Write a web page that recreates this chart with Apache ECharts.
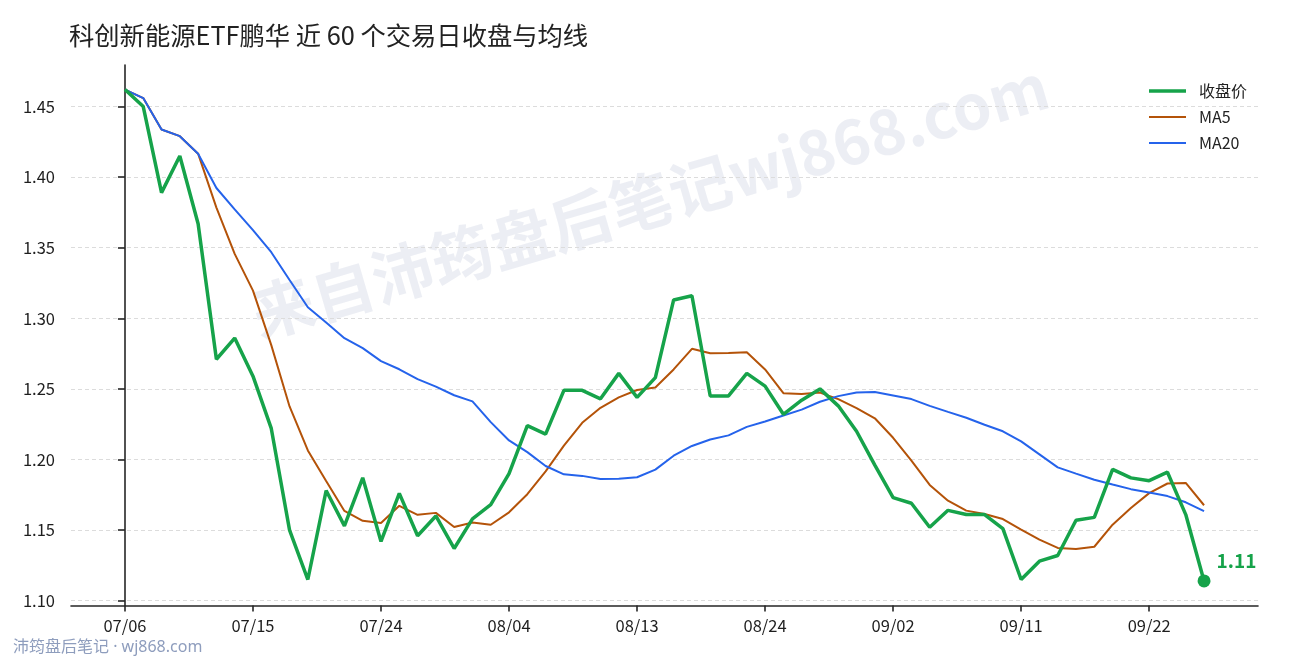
<!DOCTYPE html>
<html>
<head>
<meta charset="utf-8">
<script src="https://cdn.jsdelivr.net/npm/echarts@6/dist/echarts.min.js"></script>
<style>
html,body{margin:0;padding:0;background:#fff;}
#chart{width:1290px;height:660px;}
</style>
</head>
<body>
<div id="chart"></div>
<script>
const dates = [
  '07/06','07/07','07/08','07/09','07/10','07/13','07/14','07/15','07/16','07/17',
  '07/20','07/21','07/22','07/23','07/24','07/27','07/28','07/29','07/30','07/31',
  '08/03','08/04','08/05','08/06','08/07','08/10','08/11','08/12','08/13','08/14',
  '08/17','08/18','08/19','08/20','08/21','08/24','08/25','08/26','08/27','08/28',
  '08/31','09/01','09/02','09/03','09/04','09/07','09/08','09/09','09/10','09/11',
  '09/14','09/15','09/16','09/17','09/18','09/21','09/22','09/23','09/24','09/25'
];
const closePrice = [
  1.462,1.450,1.389,1.415,1.367,1.271,1.286,1.259,1.222,1.150,
  1.115,1.178,1.153,1.187,1.142,1.176,1.146,1.160,1.137,1.158,
  1.168,1.190,1.224,1.218,1.249,1.249,1.243,1.261,1.244,1.258,
  1.313,1.316,1.245,1.245,1.261,1.252,1.232,1.242,1.250,1.238,
  1.220,1.196,1.173,1.169,1.152,1.164,1.161,1.161,1.151,1.115,
  1.128,1.132,1.157,1.159,1.193,1.187,1.185,1.191,1.161,1.114
];
const ma5 = [
  1.4620,1.4560,1.4337,1.4290,1.4166,1.3784,1.3456,1.3196,1.2810,1.2376,
  1.2064,1.1848,1.1636,1.1566,1.1550,1.1672,1.1608,1.1622,1.1522,1.1554,
  1.1538,1.1626,1.1754,1.1916,1.2098,1.2260,1.2366,1.2440,1.2492,1.2510,
  1.2638,1.2784,1.2752,1.2754,1.2760,1.2638,1.2470,1.2464,1.2474,1.2428,
  1.2364,1.2292,1.2154,1.1992,1.1820,1.1708,1.1638,1.1614,1.1578,1.1504,
  1.1432,1.1374,1.1366,1.1382,1.1538,1.1656,1.1762,1.1830,1.1834,1.1676
];
const ma20 = [
  1.4620,1.4560,1.4337,1.4290,1.4166,1.3923,1.3771,1.3624,1.3468,1.3271,
  1.3078,1.2970,1.2859,1.2789,1.2697,1.2639,1.2569,1.2516,1.2455,1.2412,
  1.2265,1.2135,1.2052,1.1954,1.1895,1.1884,1.1862,1.1863,1.1874,1.1928,
  1.2027,1.2096,1.2142,1.2171,1.2231,1.2269,1.2312,1.2353,1.2409,1.2449,
  1.2475,1.2478,1.2453,1.2428,1.2380,1.2337,1.2296,1.2246,1.2200,1.2128,
  1.2036,1.1944,1.1900,1.1857,1.1823,1.1790,1.1767,1.1741,1.1697,1.1635
];
const xTickIdx = [0,7,14,21,28,35,42,49,56];
const yTicks = [1.10,1.15,1.20,1.25,1.30,1.35,1.40,1.45];
const titleText = '科创新能源ETF鹏华 近 60 个交易日收盘与均线';
const seriesNames = ['收盘价','MA5','MA20'];
const footerText = '沛筠盘后笔记 · wj868.com';
const watermarkText = '来自沛筠盘后笔记wj868.com';

const pairs = arr => arr.map((v,i)=>[i,v]);
const last = closePrice.length - 1;
const FONT = "'Noto Sans CJK SC', 'Noto Sans', sans-serif";
const GREEN = '#16a34a', ORANGE = '#b45309', BLUE = '#2563eb';

const chart = echarts.init(document.getElementById('chart'), null, {renderer:'canvas'});
chart.setOption({
  animation:false,
  backgroundColor:'#ffffff',
  textStyle:{fontFamily:FONT},
  title:{
    text:titleText, left:69, top:23, padding:0,
    textStyle:{fontSize:25.3, fontWeight:'normal', color:'#222', fontFamily:FONT}
  },
  graphic:[
    {type:'text', z:-10, silent:true, x:650, y:200, rotation:16.3*Math.PI/180,
     style:{text:watermarkText, font:"bold 62px 'Noto Sans CJK SC'", fill:'rgba(196,202,220,0.32)', align:'center', verticalAlign:'middle'}},
    {type:'text', silent:true, left:13, top:639,
     style:{text:footerText, font:"16px 'Noto Sans', 'Noto Sans CJK SC'", fill:'#8e9dbd'}}
  ],
  legend:{
    orient:'vertical', left:1144, top:78,
    itemWidth:37, itemHeight:3.5, itemGap:10,
    data:[
      {name:seriesNames[0], icon:'path://M0,0H37V3.5H0Z'},
      {name:seriesNames[1], icon:'path://M0,0M0,0.75H37V2.75H0ZM37,3.5'},
      {name:seriesNames[2], icon:'path://M0,0M0,0.75H37V2.75H0ZM37,3.5'}
    ],
    textStyle:{fontSize:16, color:'#222', fontFamily:FONT, padding:[0,0,0,8]}
  },
  grid:{left:71, right:32, top:65, bottom:54.5, containLabel:false},
  xAxis:{
    type:'value', min:-2.95, max:61.95,
    axisLine:{show:true, lineStyle:{color:'#262626', width:1.6}},
    axisTick:{show:true, length:6, lineStyle:{color:'#262626', width:1.6}, customValues:xTickIdx},
    axisLabel:{customValues:xTickIdx, fontSize:16.5, color:'#1e1e1e', margin:12,
      formatter:v=>dates[Math.round(v)]},
    splitLine:{show:false}
  },
  yAxis:{
    type:'value', min:1.0966, max:1.4794,
    axisLine:{show:true, lineStyle:{color:'#262626', width:1.6}},
    axisTick:{show:true, length:7, lineStyle:{color:'#262626', width:1.6}, customValues:yTicks},
    axisLabel:{customValues:yTicks, fontSize:16.5, color:'#1e1e1e', margin:16,
      formatter:v=>v.toFixed(2)},
    splitLine:{show:true, lineStyle:{color:'#dcdcdc', width:1, type:[4,3]}}
  },
  series:[
    {name:seriesNames[0], type:'line', data:pairs(closePrice), symbol:'none', z:5,
     lineStyle:{width:3.5, color:GREEN}, itemStyle:{color:GREEN}},
    {name:seriesNames[1], type:'line', data:pairs(ma5), symbol:'none', z:3,
     lineStyle:{width:2, color:ORANGE}, itemStyle:{color:ORANGE}},
    {name:seriesNames[2], type:'line', data:pairs(ma20), symbol:'none', z:4,
     lineStyle:{width:2, color:BLUE}, itemStyle:{color:BLUE}},
    {name:'last', type:'scatter', data:[[last, closePrice[last]]], symbolSize:13, z:6,
     itemStyle:{color:GREEN, opacity:1},
     label:{show:true, position:'right', offset:[1,-20], fontSize:19, fontWeight:'bold', color:GREEN,
       formatter:p=>p.value[1].toFixed(2)}}
  ]
});
</script>
</body>
</html>
